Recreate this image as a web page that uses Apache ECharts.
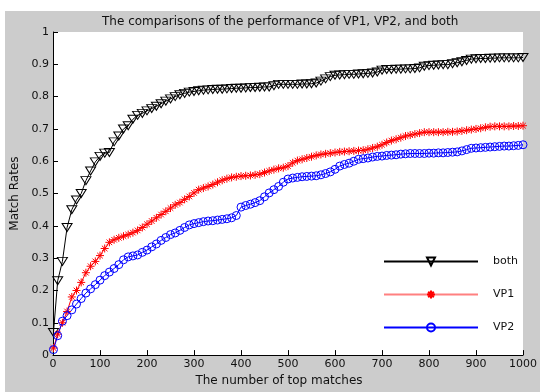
<!DOCTYPE html>
<html>
<head>
<meta charset="utf-8">
<script src="https://cdn.jsdelivr.net/npm/echarts@6/dist/echarts.min.js"></script>
<style>html,body{margin:0;padding:0;background:#fff}#c{width:540px;height:392px}</style>
</head>
<body>
<div id="c"></div>
<script>
const titleText = "The comparisons of the performance of VP1, VP2, and both";
const xName = "The number of top matches";
const yName = "Match Rates";
const seriesNames = ["both", "VP1", "VP2"];

const xs = [1,10,20,30,40,50,60,70,80,90,100,110,120,130,140,150,160,170,180,190,200,210,220,230,240,250,260,270,280,290,300,310,320,330,340,350,360,370,380,390,400,410,420,430,440,450,460,470,480,490,500,510,520,530,540,550,560,570,580,590,600,610,620,630,640,650,660,670,680,690,700,710,720,730,740,750,760,770,780,790,800,810,820,830,840,850,860,870,880,890,900,910,920,930,940,950,960,970,980,990,1000];

const both = [0.07,0.23,0.29,0.395,0.45,0.48,0.50,0.54,0.57,0.598,0.615,0.625,0.627,0.66,0.678,0.70,0.71,0.73,0.742,0.748,0.756,0.763,0.77,0.778,0.786,0.793,0.80,0.806,0.81,0.814,0.816,0.818,0.82,0.821,0.822,0.823,0.823,0.824,0.825,0.826,0.826,0.827,0.828,0.828,0.829,0.83,0.83,0.834,0.838,0.838,0.838,0.838,0.838,0.839,0.839,0.84,0.842,0.848,0.855,0.862,0.866,0.867,0.868,0.869,0.869,0.87,0.871,0.872,0.873,0.876,0.882,0.884,0.884,0.885,0.885,0.886,0.886,0.887,0.889,0.894,0.896,0.897,0.898,0.899,0.899,0.902,0.905,0.908,0.912,0.916,0.917,0.918,0.918,0.919,0.919,0.92,0.92,0.92,0.92,0.92,0.921];

const vp1 = [0.022,0.065,0.10,0.135,0.18,0.20,0.225,0.255,0.275,0.29,0.308,0.33,0.349,0.357,0.363,0.368,0.373,0.379,0.386,0.395,0.405,0.415,0.425,0.435,0.445,0.455,0.465,0.472,0.482,0.491,0.502,0.512,0.517,0.522,0.528,0.535,0.541,0.546,0.55,0.552,0.554,0.555,0.556,0.558,0.56,0.565,0.57,0.574,0.578,0.58,0.585,0.595,0.602,0.606,0.61,0.614,0.618,0.621,0.623,0.625,0.627,0.629,0.63,0.631,0.632,0.633,0.634,0.637,0.641,0.645,0.651,0.658,0.664,0.668,0.673,0.678,0.681,0.684,0.687,0.69,0.69,0.69,0.69,0.69,0.691,0.691,0.692,0.694,0.696,0.698,0.70,0.702,0.705,0.707,0.708,0.708,0.708,0.708,0.709,0.709,0.71];

const vp2 = [0.017,0.06,0.105,0.122,0.14,0.158,0.175,0.192,0.205,0.218,0.232,0.246,0.257,0.268,0.28,0.295,0.304,0.307,0.31,0.318,0.325,0.335,0.344,0.355,0.364,0.373,0.378,0.386,0.395,0.403,0.407,0.41,0.413,0.415,0.416,0.418,0.42,0.422,0.425,0.432,0.458,0.463,0.467,0.472,0.478,0.49,0.502,0.512,0.522,0.535,0.545,0.548,0.55,0.552,0.553,0.554,0.555,0.558,0.562,0.567,0.575,0.585,0.59,0.594,0.60,0.606,0.608,0.61,0.613,0.615,0.616,0.618,0.619,0.62,0.622,0.623,0.624,0.624,0.624,0.624,0.625,0.625,0.626,0.626,0.627,0.628,0.629,0.632,0.636,0.64,0.641,0.642,0.643,0.644,0.645,0.646,0.647,0.647,0.648,0.649,0.651];

const FONT = "DejaVu Sans";
const pairs = arr => xs.map((x, i) => [x, arr[i]]);
const asterisk = 'path://M0,5L10,5M5,0L5,10M1.5,1.5L8.5,8.5M8.5,1.5L1.5,8.5';

const chart = echarts.init(document.getElementById('c'), null, {renderer: 'canvas'});
chart.setOption({
  animation: false,
  backgroundColor: '#ffffff',
  graphic: [{
    type: 'rect', left: 5, top: 11, z: -10,
    shape: {width: 535, height: 381},
    style: {fill: '#cccccc'}
  }],
  title: {
    text: titleText, left: 97, top: 11,
    textStyle: {fontFamily: FONT, fontSize: 12, fontWeight: 'normal', color: '#111'}
  },
  grid: {left: 53, right: 14, top: 32, bottom: 33, show: true, backgroundColor: '#ffffff', borderWidth: 0},
  legend: {
    orient: 'vertical', left: 383, top: 255, padding: 0, itemWidth: 94, itemHeight: 10, itemGap: 20,
    textStyle: {fontFamily: FONT, fontSize: 11, color: '#111', padding: [0, 0, 0, 10]},
    data: [
      seriesNames[0],
      {name: seriesNames[1], lineStyle: {width: 2, color: '#ff8080'}},
      seriesNames[2]
    ]
  },
  xAxis: {
    type: 'value', min: 0, max: 1000, interval: 100,
    name: xName, nameLocation: 'middle', nameGap: 19,
    nameTextStyle: {fontFamily: FONT, fontSize: 12, color: '#111', padding: [0, 18, 0, 0]},
    axisLine: {show: true, lineStyle: {color: '#000', width: 1}},
    axisTick: {show: true, inside: true, length: 5, lineStyle: {color: '#000'}},
    axisLabel: {fontFamily: FONT, fontSize: 11, color: '#111', margin: 4, formatter: v => String(v)},
    splitLine: {show: false}
  },
  yAxis: {
    type: 'value', min: 0, max: 1, interval: 0.1,
    name: yName, nameLocation: 'middle', nameGap: 32,
    nameTextStyle: {fontFamily: FONT, fontSize: 12, color: '#111'},
    axisLine: {show: true, lineStyle: {color: '#000', width: 1}},
    axisTick: {show: true, inside: true, length: 5, lineStyle: {color: '#000'}},
    axisLabel: {fontFamily: FONT, fontSize: 11, color: '#111', margin: 4},
    splitLine: {show: false}
  },
  series: [
    {
      name: seriesNames[0], type: 'line', data: pairs(both),
      symbol: 'triangle', symbolRotate: 180, symbolSize: [10, 8], showSymbol: true,
      lineStyle: {color: '#000000', width: 1},
      itemStyle: {color: 'none', borderColor: '#000000', borderWidth: 1}
    },
    {
      name: seriesNames[1], type: 'line', data: pairs(vp1),
      symbol: asterisk, symbolSize: 8, showSymbol: true,
      lineStyle: {color: '#ff0000', width: 1},
      itemStyle: {color: 'none', borderColor: '#ff0000', borderWidth: 1}
    },
    {
      name: seriesNames[2], type: 'line', data: pairs(vp2),
      symbol: 'circle', symbolSize: 8, showSymbol: true,
      lineStyle: {color: '#0000ff', width: 1},
      itemStyle: {color: 'none', borderColor: '#0000ff', borderWidth: 1}
    }
  ]
});
</script>
</body>
</html>
